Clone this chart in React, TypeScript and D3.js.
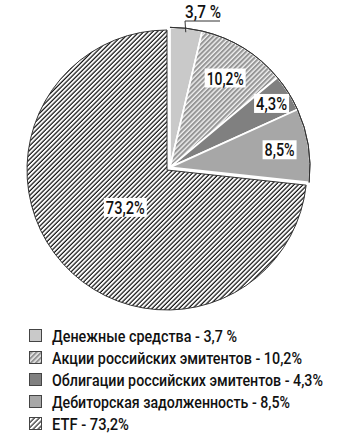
import { useLayoutEffect, useRef, useState } from "react"
import * as d3 from "d3"

interface Slice {
  name: string
  value: number
  label: string
}

const names = [
  "Денежные средства - 3,7 %",
  "Акции российских эмитентов - 10,2%",
  "Облигации российских эмитентов - 4,3%",
  "Дебиторская задолженность - 8,5%",
  "ETF - 73,2%",
]
const values = [3.7, 10.2, 4.3, 8.5, 73.2]
const labels = ["3,7 %", "10,2%", "4,3%", "8,5%", "73,2%"]

const fills = ["#c9c9c9", "url(#hatchGray)", "#808080", "#a7a7a7", "url(#hatchBlack)"]
const legendFills = ["#c9c9c9", "url(#hatchGraySm)", "#808080", "#a7a7a7", "url(#hatchBlackSm)"]
const legendWidths = [185, 250, 271, 238, 77]
const labelRadius = [0, 105, 120, 111, 56]
const labelWidths = [36, 37, 31, 30, 39]

const font = "Roboto, 'Noto Sans', sans-serif"

// text squeezed horizontally to a given width (condensed look)
function FitText({
  x,
  y,
  width,
  size,
  anchor = "start",
  children,
}: {
  x: number
  y: number
  width: number
  size: number
  anchor?: "start" | "middle"
  children: string
}) {
  const ref = useRef<SVGTextElement>(null)
  const [sx, setSx] = useState(0.85)
  useLayoutEffect(() => {
    if (!ref.current) return
    const w = ref.current.getComputedTextLength()
    if (w > 0) setSx(width / w)
  }, [width, children])
  return (
    <text
      ref={ref}
      transform={`translate(${x},${y}) scale(${sx},1)`}
      textAnchor={anchor}
      fontFamily={font}
      fontWeight={500}
      fontSize={size}
      fill="#111"
    >
      {children}
    </text>
  )
}

export default function App() {
  const width = 342
  const height = 446
  const cx = 167
  const cy = 170
  const r = 140

  const data: Slice[] = names.map((n, i) => ({ name: n, value: values[i], label: labels[i] }))
  const pie = d3
    .pie<Slice>()
    .sort(null)
    .value((d) => d.value)
  const arcs = pie(data)
  const arc = d3.arc<d3.PieArcDatum<Slice>>().innerRadius(0).outerRadius(r)
  const rim = d3.arc<d3.PieArcDatum<Slice>>().innerRadius(r).outerRadius(r)

  // small slices pulled out a little as a group
  const smallEnd = arcs[3].endAngle
  const midSmall = smallEnd / 2
  const off = 4
  const ox = Math.sin(midSmall) * off
  const oy = -Math.cos(midSmall) * off

  const pos = (a: d3.PieArcDatum<Slice>, rad: number) => {
    const m = (a.startAngle + a.endAngle) / 2
    return [Math.sin(m) * rad, -Math.cos(m) * rad]
  }

  // leader for 3,7 %
  const first = arcs[0]
  const lp = pos(first, r - 4)

  return (
    <svg width={width} height={height} style={{ position: "absolute", left: 0, top: 0, background: "#fff" }}>
      <defs>
        <pattern id="hatchBlack" patternUnits="userSpaceOnUse" width={3.2} height={3.2} patternTransform="rotate(45)">
          <rect width={3.2} height={3.2} fill="#fff" />
          <line x1={1} y1={0} x2={1} y2={3.2} stroke="#111" strokeWidth={1.25} />
        </pattern>
        <pattern id="hatchGray" patternUnits="userSpaceOnUse" width={3.4} height={3.4} patternTransform="rotate(45)">
          <rect width={3.4} height={3.4} fill="#969696" />
          <line x1={1} y1={0} x2={1} y2={3.4} stroke="#fff" strokeWidth={1.2} />
        </pattern>
        <pattern id="hatchBlackSm" patternUnits="userSpaceOnUse" width={3.5} height={3.5} patternTransform="rotate(45)">
          <rect width={3.5} height={3.5} fill="#fff" />
          <line x1={1} y1={0} x2={1} y2={3.5} stroke="#111" strokeWidth={1.1} />
        </pattern>
        <pattern id="hatchGraySm" patternUnits="userSpaceOnUse" width={3.5} height={3.5} patternTransform="rotate(45)">
          <rect width={3.5} height={3.5} fill="#969696" />
          <line x1={1} y1={0} x2={1} y2={3.5} stroke="#fff" strokeWidth={1.2} />
        </pattern>
      </defs>

      <g transform={`translate(${cx},${cy})`}>
        {/* ETF slice */}
        <path d={arc(arcs[4]) || ""} fill={fills[4]} stroke="#333" strokeWidth={1} />
        {/* small slices */}
        <g transform={`translate(${ox},${oy})`}>
          {arcs.slice(0, 4).map((a, i) => (
            <path key={i} d={arc(a) || ""} fill={fills[i]} stroke="#fff" strokeWidth={1.8} strokeLinejoin="round" />
          ))}
          {arcs.slice(0, 4).map((a, i) => (
            <path key={"rim" + i} d={rim(a) || ""} fill="none" stroke="#333" strokeWidth={1} />
          ))}
        </g>

        {/* labels inside */}
        {arcs.slice(1).map((a, j) => {
          const i = j + 1
          let [x, y] = pos(a, labelRadius[i])
          if (i < 4) {
            x += ox
            y += oy
          }
          const w = labelWidths[i] + 4
          return (
            <g key={"lab" + i}>
              <rect x={x - w / 2} y={y - 9.5} width={w} height={19} fill="#fff" />
              <FitText x={x} y={y + 6.5} width={labelWidths[i]} size={18} anchor="middle">
                {a.data.label}
              </FitText>
            </g>
          )
        })}

        {/* 3,7 % leader */}
        <polyline
          points={`${lp[0] + ox},${lp[1] + oy} ${18},${-149} ${53},${-149}`}
          fill="none"
          stroke="#333"
          strokeWidth={1}
        />
        <FitText x={18} y={-152} width={labelWidths[0]} size={18}>
          {first.data.label}
        </FitText>
      </g>

      {/* legend */}
      <g transform="translate(29,329)">
        {data.map((d, i) => (
          <g key={"leg" + i} transform={`translate(0,${i * 22})`}>
            <rect x={0.5} y={0.5} width={12} height={12} fill={legendFills[i]} stroke="#444" strokeWidth={1} />
            <FitText x={23} y={12.5} width={legendWidths[i]} size={17}>
              {d.name}
            </FitText>
          </g>
        ))}
      </g>
    </svg>
  )
}
